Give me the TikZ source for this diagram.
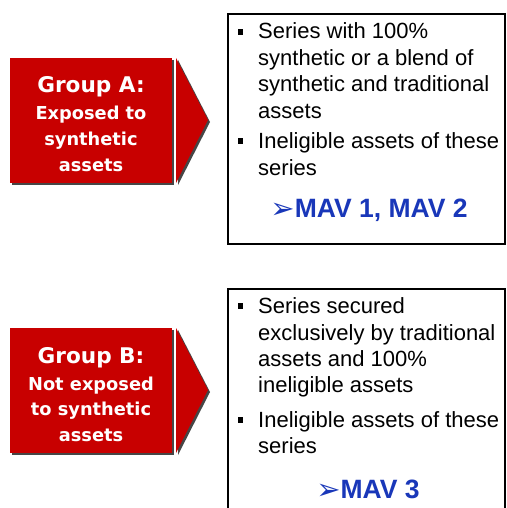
\documentclass[tikz,border=0pt]{standalone}
\usepackage{fontspec}
\setmainfont{Liberation Sans}
\newfontfamily\grpfont{DejaVu Sans}
\newfontfamily\arrfont{DejaVu Sans}
\definecolor{grpred}{RGB}{200,0,0}
\definecolor{mavblue}{RGB}{25,55,185}
\definecolor{shade}{RGB}{70,70,70}
\newcommand{\mavarrow}{\raisebox{-1.5pt}{\arrfont\fontsize{29}{30}\selectfont ➢}}
\begin{document}
\begin{tikzpicture}[x=1pt,y=-1pt,
  redshape/.style={fill=grpred,draw=none},
  shadowshape/.style={fill=shade,draw=none},
  listbox/.style={draw=black,line width=1.6pt,fill=white},
  grptitle/.style={anchor=base,inner sep=0,text=white,font=\grpfont\bfseries\fontsize{21.6}{24}\selectfont},
  grpline/.style={anchor=base,inner sep=0,text=white,font=\grpfont\bfseries\fontsize{17.8}{20}\selectfont},
  itemline/.style={anchor=base west,inner sep=0,font=\fontsize{22}{26}\selectfont},
  bulletsq/.style={fill=black,draw=none,minimum size=5.5pt,inner sep=0,anchor=center},
  mav/.style={anchor=base,inner sep=0,text=mavblue,font=\bfseries\fontsize{26.5}{28}\selectfont}
]
\useasboundingbox (0,0) rectangle (506,508);
\fill[white] (0,0) rectangle (506,508);

% ---------- Group A ----------
\fill[shadowshape] (12,60) rectangle (174,185);
\fill[shadowshape] (178,60) -- (210,122) -- (178,185) -- cycle;
\node[redshape,minimum width=162pt,minimum height=125pt,inner sep=0,anchor=north west] (grpA) at (10,58) {};
\fill[redshape] (176,58) -- (208,120) -- (176,183) -- cycle;
\node[grptitle] (a1) at (91,93) {Group A:};
\node[grpline] (a2) at (91,119) {Exposed to};
\node[grpline] (a3) at (91,145) {synthetic};
\node[grpline] (a4) at (91,171) {assets};

\node[listbox,minimum width=277pt,minimum height=230pt,inner sep=0,anchor=north west] (boxA) at (227,13) {};
\node[bulletsq] (bA1) at (240.5,32) {};
\node[itemline] (tA1) at (258,39) {Series with 100\%};
\node[itemline] (tA2) at (258,65.5) {synthetic or a blend of};
\node[itemline] (tA3) at (258,92) {synthetic and traditional};
\node[itemline] (tA4) at (258,118) {assets};
\node[bulletsq] (bA2) at (240.5,141) {};
\node[itemline] (tA5) at (258,148.5) {Ineligible assets of these};
\node[itemline] (tA6) at (258,175) {series};
\node[mav] (mA) at (369,217) {\mavarrow MAV 1, MAV 2};

% ---------- Group B ----------
\fill[shadowshape] (12,330) rectangle (174,455);
\fill[shadowshape] (178,330) -- (210,392) -- (178,455) -- cycle;
\node[redshape,minimum width=162pt,minimum height=125pt,inner sep=0,anchor=north west] (grpB) at (10,328) {};
\fill[redshape] (176,328) -- (208,390) -- (176,453) -- cycle;
\node[grptitle] (b1) at (91,363) {Group B:};
\node[grpline] (b2) at (91,390) {Not exposed};
\node[grpline] (b3) at (91,415) {to synthetic};
\node[grpline] (b4) at (91,441) {assets};

\node[listbox,minimum width=277pt,minimum height=240pt,inner sep=0,anchor=north west] (boxB) at (227,288) {};
\node[bulletsq] (bB1) at (240.5,306) {};
\node[itemline] (tB1) at (258,313) {Series secured};
\node[itemline] (tB2) at (258,340) {exclusively by traditional};
\node[itemline] (tB3) at (258,366.5) {assets and 100\%};
\node[itemline] (tB4) at (258,392.5) {ineligible assets};
\node[bulletsq] (bB2) at (240.5,420) {};
\node[itemline] (tB5) at (258,427) {Ineligible assets of these};
\node[itemline] (tB6) at (258,453.5) {series};
\node[mav] (mB) at (368,498) {\mavarrow MAV 3};
\end{tikzpicture}
\end{document}
